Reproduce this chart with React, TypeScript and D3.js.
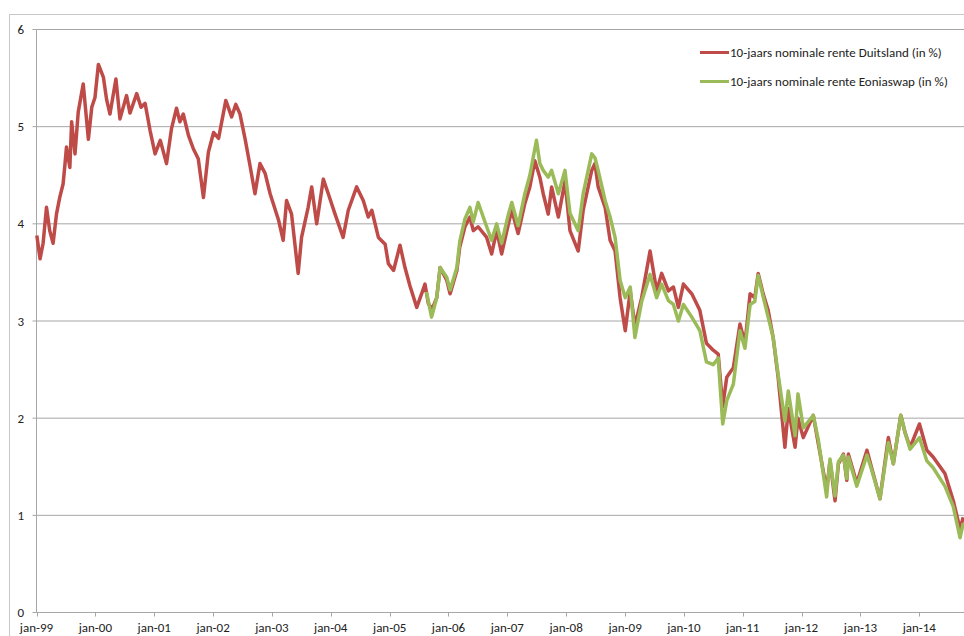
import React from 'react';
import * as d3 from 'd3';

// 10-jaars rente Duitsland (rood)
const duitslandDates = [
  '1999-01-03', '1999-01-23', '1999-02-11', '1999-03-04', '1999-03-24', '1999-04-14', '1999-05-05', '1999-05-25',
  '1999-06-15', '1999-06-26', '1999-07-06', '1999-07-27', '1999-08-07', '1999-08-28', '1999-09-17', '1999-10-18',
  '1999-11-19', '1999-12-10', '1999-12-30', '2000-01-20', '2000-02-20', '2000-03-11', '2000-04-01', '2000-05-08',
  '2000-06-02', '2000-07-13', '2000-08-03', '2000-09-14', '2000-10-11', '2000-11-05', '2000-12-06', '2001-01-06',
  '2001-02-07', '2001-03-18', '2001-04-18', '2001-05-19', '2001-06-09', '2001-06-30', '2001-08-01', '2001-09-01',
  '2001-10-01', '2001-11-02', '2001-12-03', '2002-01-04', '2002-02-04', '2002-03-21', '2002-04-26', '2002-05-22',
  '2002-06-17', '2002-07-18', '2002-08-18', '2002-09-18', '2002-10-19', '2002-11-20', '2002-12-21', '2003-02-11',
  '2003-03-12', '2003-04-02', '2003-05-03', '2003-06-13', '2003-07-04', '2003-08-14', '2003-09-05', '2003-10-06',
  '2003-11-16', '2003-12-17', '2004-01-28', '2004-03-18', '2004-04-19', '2004-06-10', '2004-07-21', '2004-08-21',
  '2004-09-12', '2004-10-23', '2004-12-04', '2004-12-24', '2005-01-25', '2005-03-06', '2005-04-06', '2005-05-07',
  '2005-06-18', '2005-07-18', '2005-08-08', '2005-08-29', '2005-09-21', '2005-10-20', '2005-11-10', '2005-12-21',
  '2006-01-11', '2006-02-22', '2006-03-12', '2006-04-13', '2006-05-14', '2006-06-04', '2006-07-04', '2006-08-26',
  '2006-09-26', '2006-10-27', '2006-11-27', '2007-01-08', '2007-01-29', '2007-03-09', '2007-04-20', '2007-05-21',
  '2007-06-21', '2007-07-22', '2007-08-12', '2007-09-12', '2007-10-03', '2007-11-14', '2007-12-25', '2008-01-25',
  '2008-03-16', '2008-04-16', '2008-06-08', '2008-06-28', '2008-07-18', '2008-08-30', '2008-09-30', '2008-10-31',
  '2008-12-01', '2009-01-02', '2009-02-02', '2009-03-03', '2009-04-14', '2009-06-05', '2009-07-16', '2009-08-16',
  '2009-09-27', '2009-10-28', '2009-11-28', '2009-12-29', '2010-02-19', '2010-04-10', '2010-05-21', '2010-07-02',
  '2010-08-02', '2010-08-30', '2010-09-24', '2010-11-04', '2010-12-15', '2011-01-15', '2011-02-16', '2011-03-17',
  '2011-04-07', '2011-05-08', '2011-06-08', '2011-07-09', '2011-08-09', '2011-09-20', '2011-10-11', '2011-11-22',
  '2011-12-10', '2012-01-12', '2012-03-14', '2012-04-14', '2012-06-05', '2012-06-26', '2012-07-27', '2012-08-17',
  '2012-09-17', '2012-10-08', '2012-10-18', '2012-12-09', '2013-02-10', '2013-03-11', '2013-05-02', '2013-06-23',
  '2013-07-24', '2013-09-08', '2013-10-05', '2013-11-05', '2014-01-02', '2014-02-17', '2014-03-28', '2014-06-09',
  '2014-07-31', '2014-09-11', '2014-10-01',
];
const duitslandValues = [
  3.88, 3.64, 3.80, 4.17, 3.93, 3.80, 4.10, 4.27,
  4.41, 4.60, 4.79, 4.58, 5.05, 4.72, 5.15, 5.44,
  4.87, 5.20, 5.30, 5.64, 5.51, 5.28, 5.13, 5.49,
  5.08, 5.32, 5.14, 5.34, 5.20, 5.24, 4.96, 4.72,
  4.86, 4.62, 4.98, 5.19, 5.05, 5.13, 4.91, 4.77,
  4.67, 4.27, 4.74, 4.94, 4.88, 5.27, 5.10, 5.23,
  5.13, 4.88, 4.60, 4.31, 4.62, 4.52, 4.31, 4.04,
  3.83, 4.24, 4.10, 3.49, 3.86, 4.17, 4.38, 4.00,
  4.46, 4.31, 4.10, 3.86, 4.14, 4.38, 4.24, 4.07,
  4.14, 3.86, 3.79, 3.59, 3.52, 3.78, 3.55, 3.36,
  3.14, 3.28, 3.38, 3.18, 3.12, 3.24, 3.55, 3.42,
  3.28, 3.52, 3.76, 3.97, 4.07, 3.93, 3.97, 3.86,
  3.69, 3.93, 3.69, 4.00, 4.14, 3.90, 4.21, 4.38,
  4.65, 4.48, 4.31, 4.10, 4.38, 4.07, 4.44, 3.93,
  3.72, 4.14, 4.55, 4.62, 4.38, 4.17, 3.83, 3.72,
  3.24, 2.90, 3.31, 2.95, 3.24, 3.72, 3.31, 3.49,
  3.31, 3.35, 3.14, 3.38, 3.28, 3.11, 2.77, 2.70,
  2.66, 2.12, 2.42, 2.52, 2.97, 2.77, 3.28, 3.24,
  3.49, 3.28, 3.11, 2.83, 2.42, 1.70, 2.10, 1.70,
  2.00, 1.80, 2.03, 1.74, 1.26, 1.56, 1.15, 1.53,
  1.63, 1.36, 1.63, 1.33, 1.67, 1.49, 1.17, 1.80,
  1.53, 2.03, 1.85, 1.70, 1.94, 1.67, 1.60, 1.43,
  1.15, 0.86, 0.98,
];

// 10-jaars Eoniaswap (groen)
const swapDates = [
  '2005-08-17', '2005-09-18', '2005-10-20', '2005-11-10', '2005-12-21', '2006-01-11', '2006-02-22', '2006-03-12',
  '2006-04-13', '2006-05-14', '2006-06-04', '2006-07-04', '2006-08-26', '2006-09-26', '2006-10-27', '2006-11-27',
  '2007-01-08', '2007-01-29', '2007-03-09', '2007-04-20', '2007-05-21', '2007-07-01', '2007-07-22', '2007-08-12',
  '2007-09-12', '2007-10-03', '2007-11-14', '2007-12-25', '2008-01-25', '2008-03-16', '2008-04-16', '2008-06-08',
  '2008-06-28', '2008-07-18', '2008-08-30', '2008-09-30', '2008-10-31', '2008-12-01', '2009-01-02', '2009-02-02',
  '2009-03-03', '2009-04-14', '2009-06-05', '2009-07-16', '2009-08-16', '2009-09-27', '2009-10-28', '2009-11-28',
  '2009-12-29', '2010-02-19', '2010-04-10', '2010-05-21', '2010-07-02', '2010-08-02', '2010-08-30', '2010-09-24',
  '2010-11-04', '2010-12-15', '2011-01-15', '2011-02-16', '2011-03-17', '2011-04-07', '2011-05-08', '2011-06-08',
  '2011-07-09', '2011-08-09', '2011-09-20', '2011-10-11', '2011-11-22', '2011-12-10', '2012-01-12', '2012-03-14',
  '2012-04-14', '2012-06-05', '2012-06-26', '2012-07-27', '2012-08-17', '2012-09-17', '2012-10-08', '2012-10-18',
  '2012-12-09', '2013-02-10', '2013-03-11', '2013-05-02', '2013-06-23', '2013-07-24', '2013-09-08', '2013-10-05',
  '2013-11-05', '2014-01-02', '2014-02-17', '2014-03-28', '2014-06-09', '2014-07-31', '2014-09-11', '2014-10-01',
];
const swapValues = [
  3.30, 3.04, 3.24, 3.55, 3.45, 3.32, 3.55, 3.82,
  4.05, 4.17, 4.02, 4.22, 3.97, 3.83, 4.00, 3.80,
  4.10, 4.22, 3.98, 4.31, 4.50, 4.86, 4.62, 4.55,
  4.48, 4.55, 4.31, 4.55, 4.11, 3.93, 4.31, 4.72,
  4.68, 4.55, 4.24, 4.07, 3.86, 3.42, 3.24, 3.35,
  2.83, 3.20, 3.48, 3.24, 3.38, 3.21, 3.17, 3.00,
  3.17, 3.04, 2.90, 2.58, 2.55, 2.62, 1.94, 2.18,
  2.35, 2.90, 2.72, 3.17, 3.20, 3.47, 3.25, 3.04,
  2.83, 2.45, 1.97, 2.28, 1.82, 2.25, 1.90, 2.03,
  1.78, 1.19, 1.58, 1.20, 1.55, 1.62, 1.38, 1.60,
  1.30, 1.62, 1.47, 1.17, 1.75, 1.53, 2.03, 1.85,
  1.68, 1.80, 1.56, 1.49, 1.30, 1.09, 0.77, 0.92,
];

const yTicks = [0, 1, 2, 3, 4, 5, 6];
const legendLabels = [
  '10-jaars nominale rente Duitsland (in %)',
  '10-jaars nominale rente Eoniaswap (in %)',
];

const W = 964;
const H = 636;
const font = 'Carlito, Calibri, Lato, "Liberation Sans", Arial, sans-serif';

const parse = d3.timeParse('%Y-%m-%d');

const App: React.FC = () => {
  const left = 36.5;
  const yearW = 58.85;
  const x = d3.scaleTime()
    .domain([new Date(1999, 0, 1), new Date(2015, 0, 1)])
    .range([left, left + 16 * yearW]);
  const y = d3.scaleLinear().domain([0, 6]).range([612.5, 29.5]);

  const red = duitslandDates.map((d, i) => ({ date: parse(d) as Date, v: duitslandValues[i] }));
  const green = swapDates.map((d, i) => ({ date: parse(d) as Date, v: swapValues[i] }));

  const line = d3.line<{ date: Date; v: number }>()
    .x((d) => x(d.date))
    .y((d) => y(d.v));

  const xTicks = d3.timeYear.range(new Date(1999, 0, 1), new Date(2014, 6, 1));
  const fmt = (d: Date) => 'jan-' + d3.timeFormat('%y')(d);

  const colors = ['#be4b48', '#9bbb59'];

  return (
    <svg width={W} height={H} style={{ position: 'absolute', left: 0, top: 0, background: '#fff' }}>
      <rect x={9.5} y={14.5} width={W} height={H} fill="none" stroke="#c8c8c8" />
      {yTicks.map((t) => (
        <g key={t}>
          {t > 0 && <line x1={left} x2={W} y1={y(t)} y2={y(t)} stroke="#a6a6a6" strokeWidth={1} />}
          <line x1={left - 4} x2={left} y1={y(t)} y2={y(t)} stroke="#a6a6a6" />
          <text x={24} y={y(t)} dy="0.35em" textAnchor="end" fontFamily={font} fontSize={13} fill="#222">{t}</text>
        </g>
      ))}
      <line x1={left} x2={left} y1={y(6)} y2={y(0)} stroke="#a6a6a6" />
      <line x1={left} x2={W} y1={y(0)} y2={y(0)} stroke="#a6a6a6" />
      {xTicks.map((d) => (
        <g key={d.getFullYear()}>
          <line x1={Math.round(x(d)) + 0.5} x2={Math.round(x(d)) + 0.5} y1={y(0)} y2={y(0) + 4} stroke="#a6a6a6" />
          <text x={x(d)} y={632} textAnchor="middle" fontFamily={font} fontSize={13} fill="#222">{fmt(d)}</text>
        </g>
      ))}
      <path d={line(red) || ''} fill="none" stroke={colors[0]} strokeWidth={3.5} strokeLinejoin="round" />
      <path d={line(green) || ''} fill="none" stroke={colors[1]} strokeWidth={3.5} strokeLinejoin="round" />
      {legendLabels.map((l, i) => (
        <g key={l} transform={`translate(700,${52.5 + i * 29})`}>
          <line x1={0} x2={29} y1={0} y2={0} stroke={colors[i]} strokeWidth={3} />
          <text x={30} y={0} dy="0.35em" fontFamily={font} fontSize={13} fill="#222">{l}</text>
        </g>
      ))}
    </svg>
  );
};

export default App;
